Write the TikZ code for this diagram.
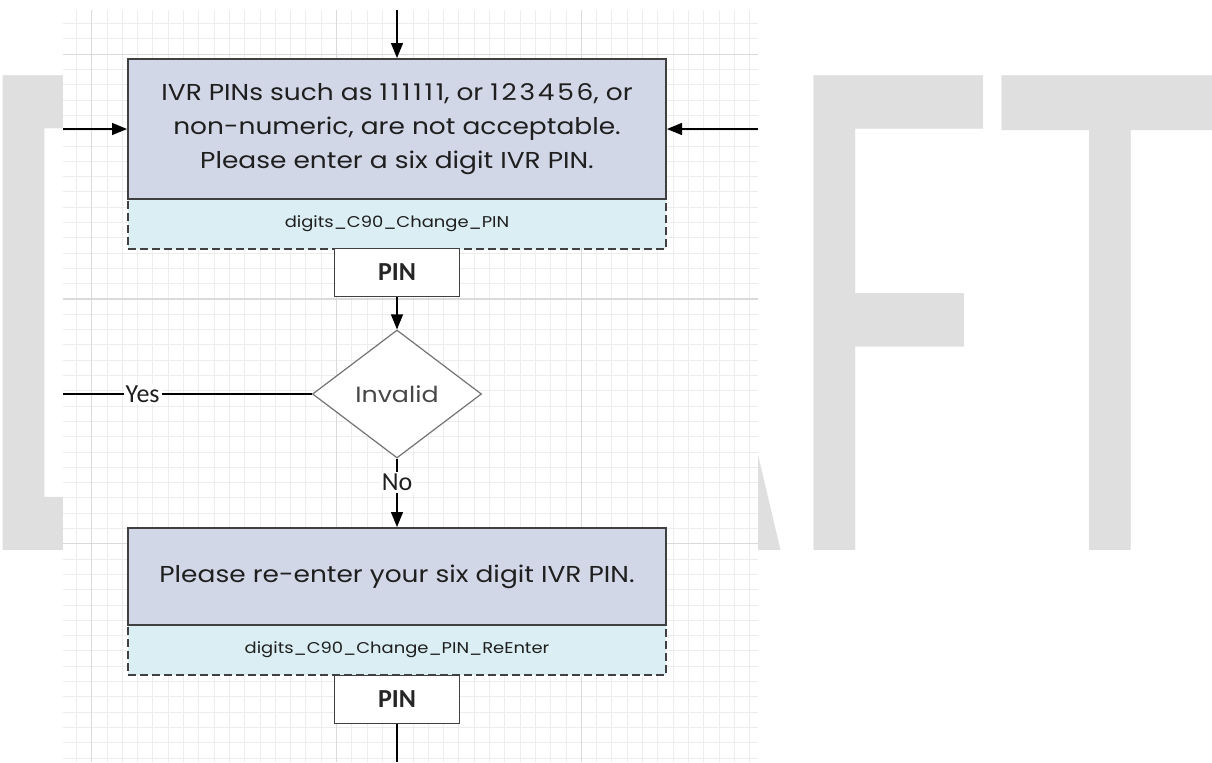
\documentclass[tikz,border=0pt]{standalone}
\usepackage{fontspec}
\setmainfont{Carlito}
\newfontfamily\gothic[FakeStretch=1.15,Numbers=Monospaced]{Poppins}
\newcommand{\widedigits}[1]{{\addfontfeature{LetterSpace=12}#1}}
\usetikzlibrary{arrows.meta,shapes.geometric}
\definecolor{wm}{HTML}{DFDFDF}
\definecolor{gridminor}{HTML}{EDEDED}
\definecolor{gridmajor}{HTML}{DADADA}
\definecolor{boxfill}{HTML}{D1D7E6}
\definecolor{subfill}{HTML}{DAEEF3}
\definecolor{boxline}{HTML}{404040}
\begin{document}
\begin{tikzpicture}[x=0.5pt,y=-0.5pt,
  promptbox/.style={draw=boxline, line width=1pt, fill=boxfill, minimum width=269pt, inner sep=0pt, align=center, font=\gothic\fontsize{11.5}{17}\selectfont, text=black!88},
  namebox/.style={draw=boxline, dash pattern=on 4pt off 2pt, line width=1pt, fill=subfill, minimum width=269pt, minimum height=25pt, inner sep=0pt, font=\gothic\fontsize{7.8}{10}\selectfont, text=black!88},
  pinbox/.style={draw=boxline, line width=0.7pt, fill=white, minimum width=62.5pt, minimum height=24pt, inner sep=0pt, font=\bfseries\fontsize{13}{15}\selectfont, text=black!85},
  decision/.style={diamond, draw=black!55, line width=0.6pt, fill=white, minimum width=84.5pt, minimum height=64pt, inner sep=0pt, font=\gothic\fontsize{11}{13}\selectfont, text=black!72},
  flow/.style={draw=black, line width=0.65pt},
  arrowflow/.style={flow, -{Triangle[width=6pt,length=7.5pt]}},
  edgelabel/.style={fill=white, inner sep=1pt, font=\fontsize{13}{15}\selectfont, text=black!88},
  gridthin/.style={draw=gridminor, line width=0.5pt},
  gridthick/.style={draw=gridmajor, line width=0.55pt}
]
\useasboundingbox (0,0) rectangle (1212,762);
\fill[white] (0,0) rectangle (1212,762);
% watermark
\node[anchor=base, inner sep=0pt, text=wm] (wmark) at (598,550) {\scalebox{0.631}[1]{\fontsize{370}{370}\selectfont DRAFT}};
% page area with grid
\fill[white] (63,10) rectangle (758,762);
\foreach \i in {0,...,44} \draw[gridthin] ({76.4+\i*15.3},10) -- ({76.4+\i*15.3},762);
\foreach \i in {0,...,48} \draw[gridthin] (63,{23.6+\i*15.3}) -- (758,{23.6+\i*15.3});
\foreach \x in {91.7,336.5,581.3} \draw[gridthick] (\x,10) -- (\x,762);
\foreach \y in {54.2,299,543.8} \draw[gridthick] (63,\y) -- (758,\y);
% nodes
\node[namebox] (sub1) at (397,224) {digits\_C90\_Change\_PIN};
\node[promptbox, minimum height=70pt] (prompt1) at (397,129) {IVR PINs such as \widedigits{111111}, or \widedigits{123456}, or\\non-numeric, are not acceptable.\\Please enter a six digit IVR PIN.};
\node[pinbox] (pin1) at (397,272.5) {PIN};
\node[decision] (check) at (397,394) {Invalid};
\node[namebox] (sub2) at (397,650) {digits\_C90\_Change\_PIN\_ReEnter};
\node[promptbox, minimum height=48.5pt] (prompt2) at (397,576.5) {Please re-enter your six digit IVR PIN.};
\node[pinbox] (pin2) at (397,699.5) {PIN};
% free ends
\coordinate (inTop) at (397,10);
\coordinate (inLeft) at (63,129);
\coordinate (inRight) at (758,129);
\coordinate (yesEnd) at (63,394);
\coordinate (outBottom) at (397,762);
% connectors
\draw[arrowflow] (inTop) -- (prompt1.north);
\draw[arrowflow] (inLeft) -- (prompt1.west);
\draw[arrowflow] (inRight) -- (prompt1.east);
\draw[arrowflow] (pin1.south) -- (check.north);
\draw[flow] (check.west) -- node[edgelabel, pos=0.68] {Yes} (yesEnd);
\draw[arrowflow] (check.south) -- node[edgelabel, pos=0.35] {No} (prompt2.north);
\draw[flow] (pin2.south) -- (outBottom);
\end{tikzpicture}
\end{document}
